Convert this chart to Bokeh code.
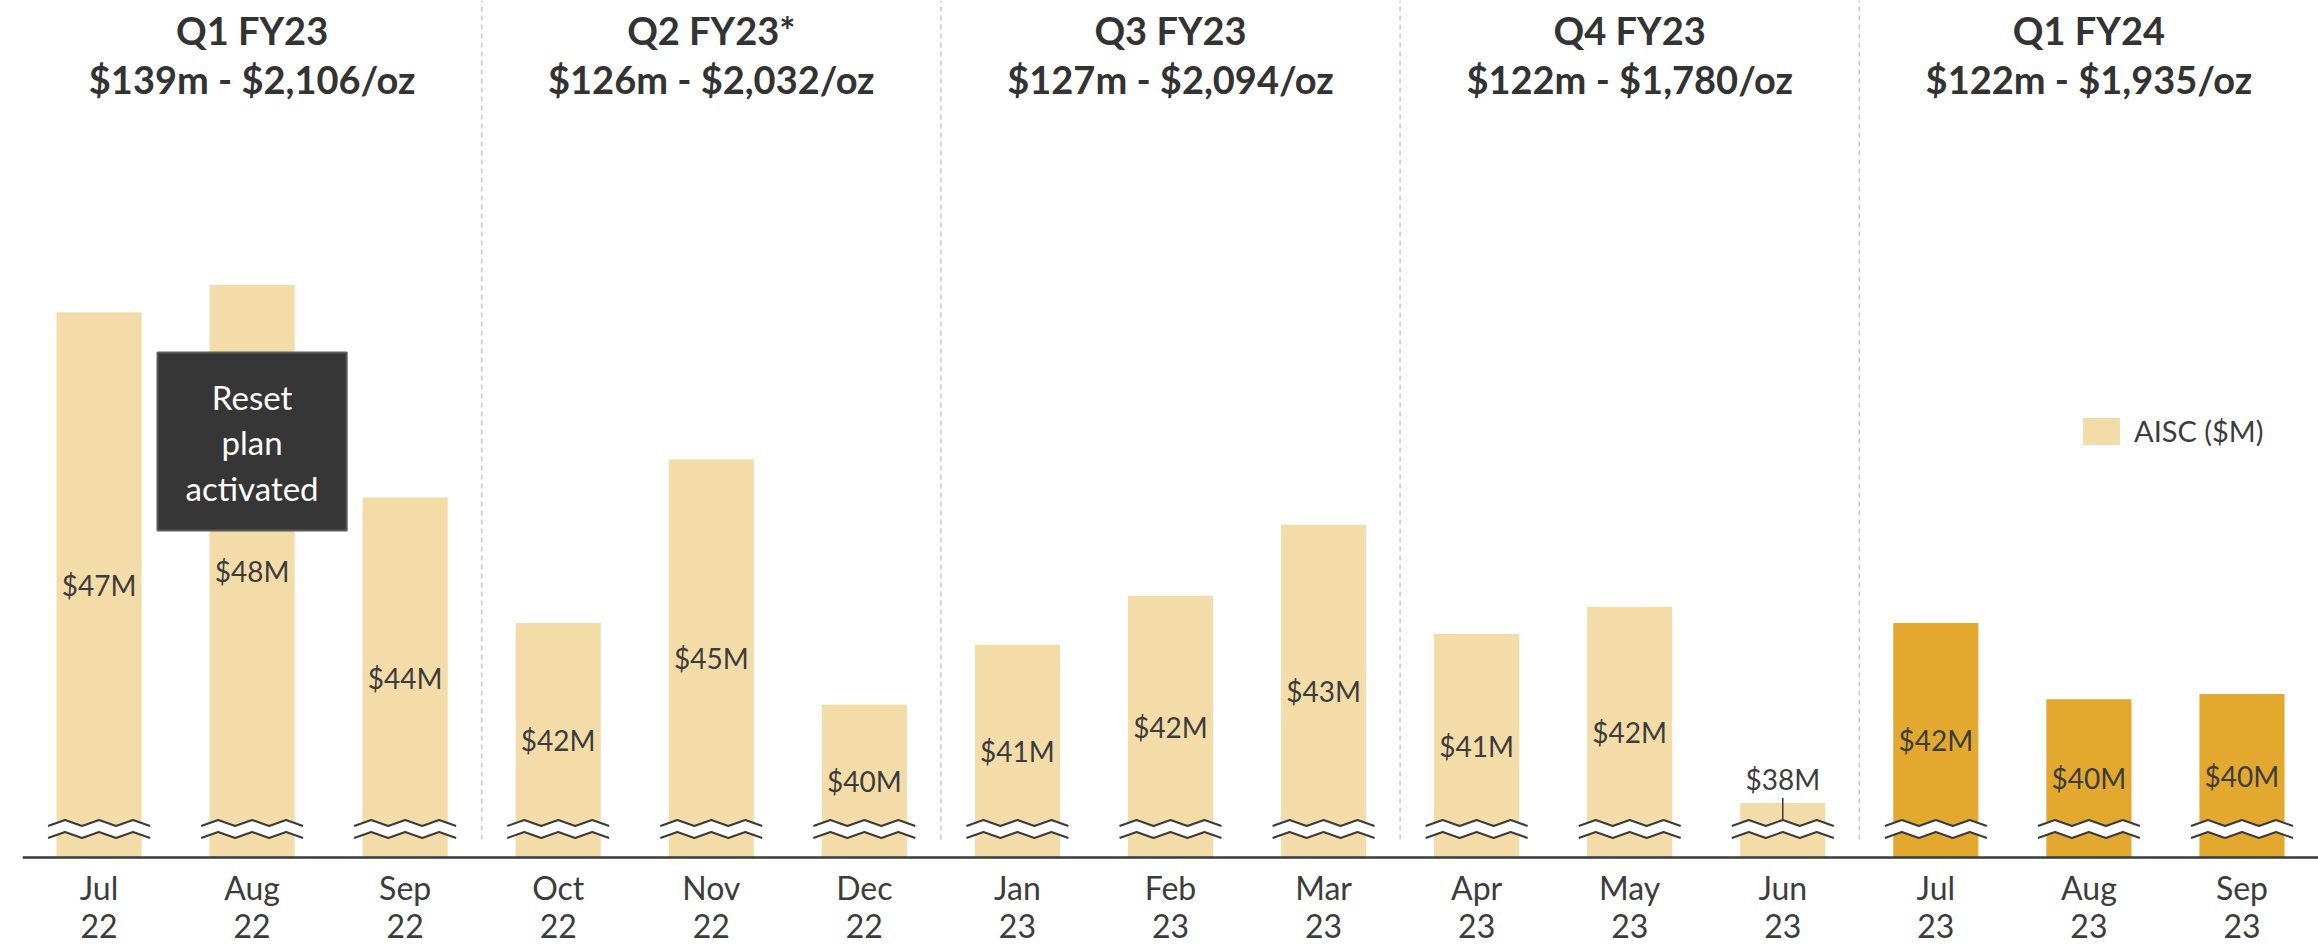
import numpy as np
from bokeh.plotting import figure
from bokeh.models import (ColumnDataSource, Range1d, BoxAnnotation, Span,
                          Label, Legend, LegendItem)
from bokeh.core.properties import value
from bokeh.embed import file_html
from bokeh.resources import INLINE

# ---------------- data ----------------
months = ["Jul", "Aug", "Sep", "Oct", "Nov", "Dec", "Jan", "Feb", "Mar",
          "Apr", "May", "Jun", "Jul", "Aug", "Sep"]
years = ["22", "22", "22", "22", "22", "22", "23", "23", "23",
         "23", "23", "23", "23", "23", "23"]
aisc_musd = [47.3, 47.8, 43.9, 41.6, 44.6, 40.1, 41.2, 42.1, 43.4,
             41.4, 41.9, 38.3, 41.6, 40.2, 40.3]
is_current_fy = [False] * 12 + [True] * 3
quarters = ["Q1 FY23", "Q2 FY23*", "Q3 FY23", "Q4 FY23", "Q1 FY24"]
quarter_totals = ["$139m - $2,106/oz", "$126m - $2,032/oz", "$127m - $2,094/oz",
                  "$122m - $1,780/oz", "$122m - $1,935/oz"]
months_per_quarter = 3
note_text = "Reset\nplan\nactivated"
legend_label = "AISC ($M)"

# ---------------- styling ----------------
LIGHT = "#F3DCA8"
DARK = "#E2A92E"
TEXT = "#3C3C3C"
FONT = "Lato"

W, H = 2318, 944
PX_PER_UNIT = 54.53            # vertical scale (pixels per $M)
UPP = 1.0 / PX_PER_UNIT        # data units per pixel
Y0 = 37.30                     # broken-axis baseline value (axis line)
ABOVE_PX, BELOW_PX = 857, 87   # frame pixels above / below the axis line
Y1 = Y0 + ABOVE_PX * UPP
YB = Y0 - BELOW_PX * UPP


def from_top(px):
    return Y1 - px * UPP


p = figure(width=W, height=H, output_backend="svg", toolbar_location=None,
           x_range=Range1d(-0.5, 14.5), y_range=Range1d(YB, Y1),
           min_border_left=22, min_border_right=0, min_border_top=0,
           min_border_bottom=0)
p.outline_line_color = None
p.grid.visible = False
p.xaxis.visible = False
p.yaxis.visible = False
p.background_fill_color = "white"
p.border_fill_color = "white"

n = len(months)
idx = np.arange(n)
labels = [f"${round(v)}M" for v in aisc_musd]
colors = [DARK if c else LIGHT for c in is_current_fy]

# label placement rule: inside at bar middle, or above when the visible bar is short
lab_y, lab_off, outside = [], [], []
for v in aisc_musd:
    if (v - Y0) * PX_PER_UNIT < 80:
        lab_y.append(v); lab_off.append(-24); outside.append(True)
    else:
        lab_y.append((v + Y0) / 2); lab_off.append(0); outside.append(False)

src = ColumnDataSource(dict(x=idx, top=aisc_musd, color=colors, label=labels,
                            ly=lab_y, loff=lab_off, month=months, year=years))

# group dividers
bounds = [k * months_per_quarter - 0.5 for k in range(1, len(quarters))]
p.segment(x0=bounds, x1=bounds, y0=[Y0 + 18 * UPP] * len(bounds), y1=[Y1] * len(bounds),
          line_color="#C8C8C8", line_width=1.5, line_dash="5 4")

bars = p.vbar(x="x", top="top", bottom=Y0, width=0.556, source=src,
              fill_color="color", line_color=None)

# break marks (double zigzag with white gap)
step = 0.111
xoff = np.arange(-3, 4) * step
lvl_top = np.array([31.5, 37.5] * 3 + [31.5]) * UPP + Y0
lvl_bot = np.array([19.5, 25.5] * 3 + [19.5]) * UPP + Y0
pxs, pys, lxs, lys = [], [], [], []
for i in idx:
    xs = list(i + xoff)
    pxs.append(xs + xs[::-1])
    pys.append(list(lvl_top) + list(lvl_bot[::-1]))
    lxs += [xs, xs]
    lys += [list(lvl_top), list(lvl_bot)]
p.patches(pxs, pys, fill_color="white", line_color=None)
p.multi_line(lxs, lys, line_color="#3A3A3A", line_width=2)

# leader lines for labels placed above short bars
lead_x = [i for i, o in zip(idx, outside) if o]
lead_y0 = [v + 5 * UPP for v, o in zip(aisc_musd, outside) if o]
if lead_x:
    p.segment(x0=lead_x, x1=lead_x, y0=lead_y0, y1=[Y0 + 37.5 * UPP] * len(lead_x),
              line_color="#3A3A3A", line_width=1.5)

p.text(x="x", y="ly", text="label", y_offset="loff", source=src,
       text_font=value(FONT), text_font_size="28px", text_color=TEXT,
       text_align="center", text_baseline="middle")

# category axis: baseline line + two-row month labels
p.add_layout(Span(location=Y0, dimension="width", line_color="#3A3A3A", line_width=2.5))
p.text(x="x", y=from_top(887), text="month", source=src,
       text_font=value(FONT), text_font_size="32px", text_color=TEXT,
       text_align="center", text_baseline="middle")
p.text(x="x", y=from_top(925), text="year", source=src,
       text_font=value(FONT), text_font_size="32px", text_color=TEXT,
       text_align="center", text_baseline="middle")

# quarter headers
qx = [k * months_per_quarter + 1 for k in range(len(quarters))]
p.text(x=qx, y=[from_top(29.5)] * len(qx), text=quarters,
       text_font=value(FONT), text_font_size="38px", text_font_style="bold",
       text_color="#333333", text_align="center", text_baseline="middle")
p.text(x=qx, y=[from_top(78.5)] * len(qx), text=quarter_totals,
       text_font=value(FONT), text_font_size="38px", text_font_style="bold",
       text_color="#333333", text_align="center", text_baseline="middle")

# note box
p.add_layout(BoxAnnotation(left=1 - 0.618, right=1 + 0.618,
                           top=from_top(352), bottom=from_top(530),
                           fill_color="#363636", fill_alpha=1.0,
                           line_color="#5A5A5A", line_width=2, line_alpha=1.0))
p.add_layout(Label(x=1, y=from_top(442), text=note_text,
                   text_font=FONT, text_font_size="33px", text_color="white",
                   text_align="center", text_baseline="middle",
                   text_line_height=1.14))

# legend
legend = Legend(items=[LegendItem(label=legend_label, renderers=[bars], index=0)],
                location=(2056, 496), padding=0, margin=0, spacing=0,
                glyph_width=46, glyph_height=34, label_height=34,
                label_standoff=10, border_line_color=None,
                background_fill_alpha=0, label_text_font=FONT,
                label_text_font_size="29px", label_text_color=TEXT)
p.add_layout(legend)

open("out.html", "w").write(file_html(p, INLINE))
